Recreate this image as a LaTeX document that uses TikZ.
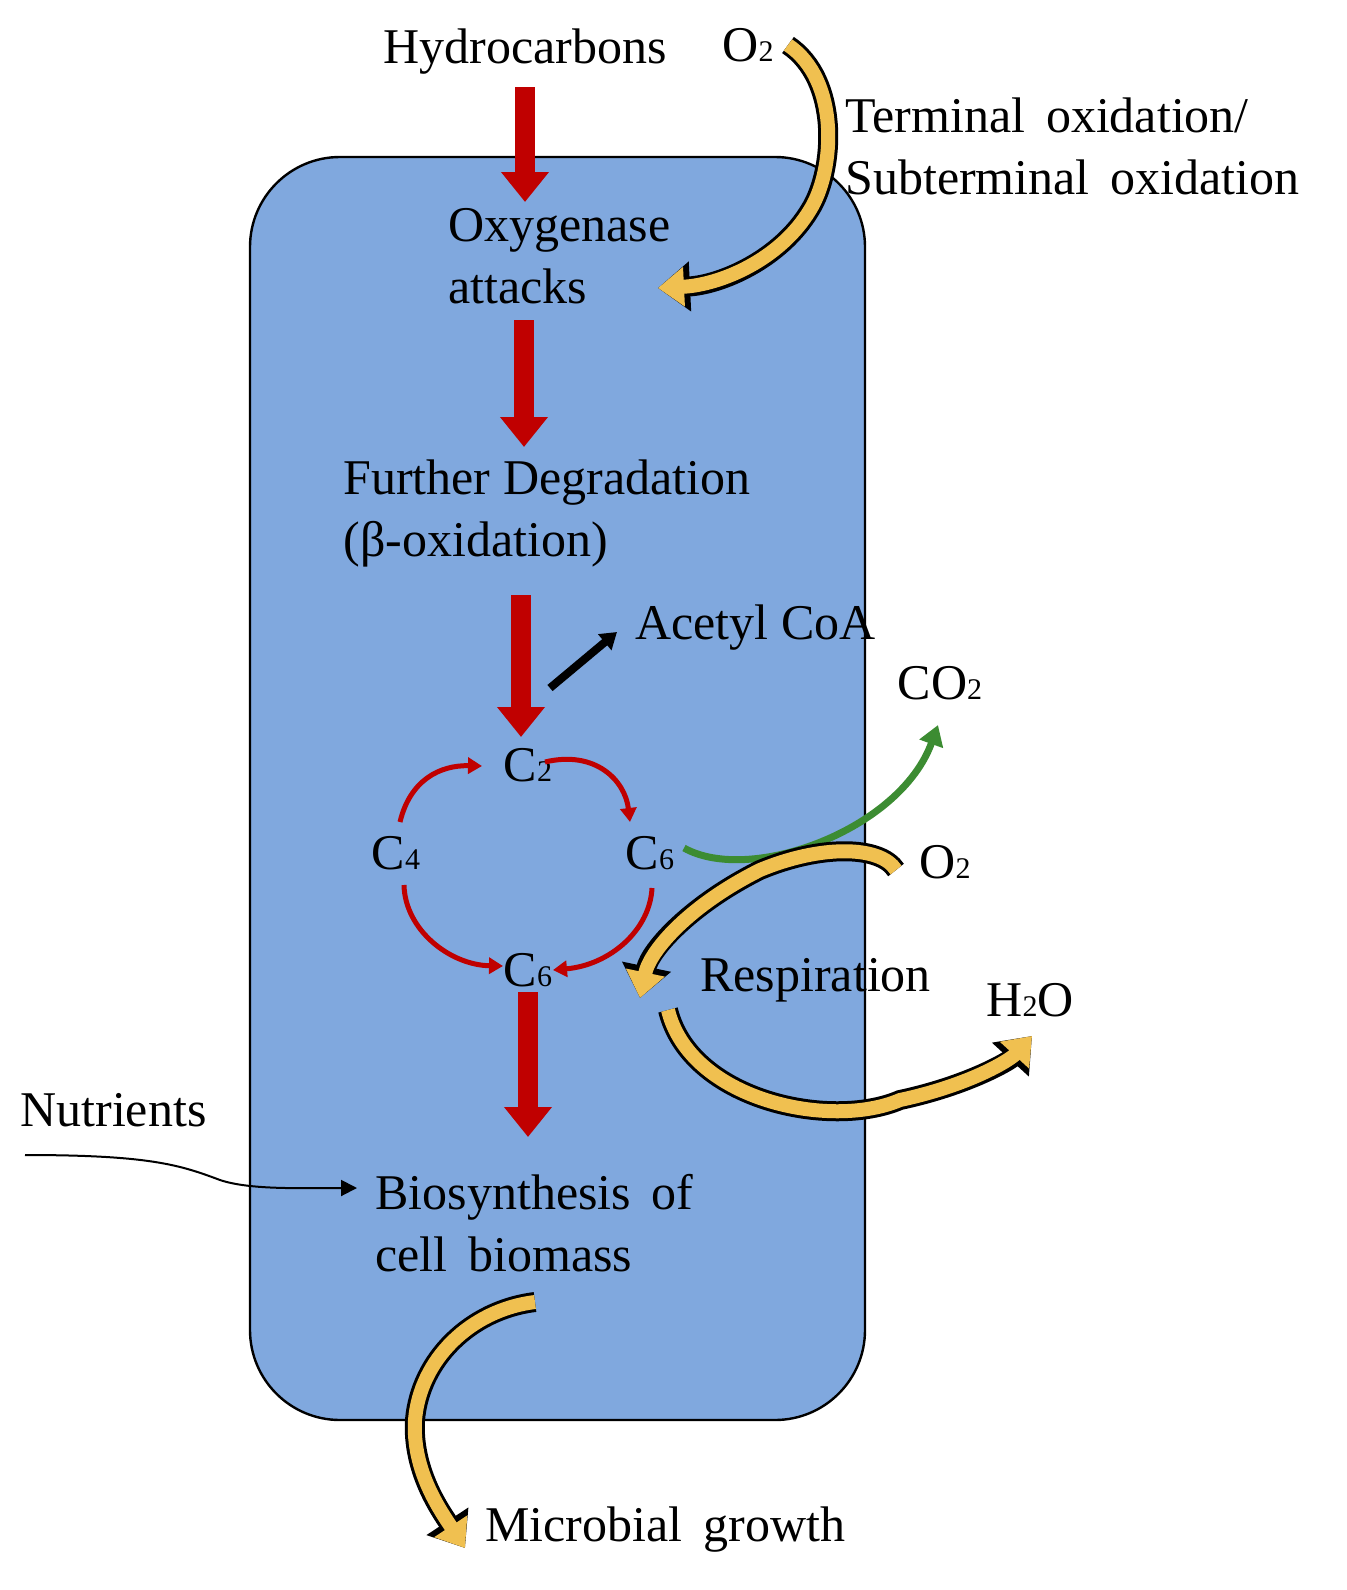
\documentclass[tikz,border=0pt]{standalone}
\usepackage{fontspec}
\setmainfont{Liberation Serif}
\usetikzlibrary{arrows.meta}
\definecolor{cellblue}{RGB}{128,168,222}
\definecolor{dred}{RGB}{192,0,0}
\definecolor{ayel}{RGB}{240,192,80}
\definecolor{agreen}{RGB}{60,140,50}
\newcommand\lowd[1]{{\fontsize{15}{15}\selectfont #1}}
\newcommand\yarr[1]{\draw[yout] #1; \draw[yin] #1;}
\begin{document}
\begin{tikzpicture}[x=0.5pt,y=-0.5pt,
  txt/.style={font=\fontsize{25}{31}\selectfont, inner sep=0pt},
  ltxt/.style={txt, anchor=west, align=left},
  red/.style={draw=dred, line width=10pt, -{Triangle[length=15pt,width=23pt]}},
  cyc/.style={draw=dred, line width=2.5pt, -{Triangle[length=7pt,width=8pt]}},
  yout/.style={draw=black, line width=10pt, -{Triangle[length=16pt,width=24pt]}},
  yin/.style={draw=ayel, line width=7pt, -{Triangle[length=13pt,width=19pt]}}]
\useasboundingbox (0,0) rectangle (1346,1590);
\draw[fill=cellblue, line width=1.2pt, rounded corners=45pt] (250,157) rectangle (865,1420);

\node[txt] (hc) at (525,52) {Hydrocarbons};
\node[txt] (o2a) at (748,45) {O\lowd{2}};
\node[ltxt] (term) at (845,146) {Terminal\, oxidation/\\Subterminal\, oxidation};
\node[ltxt] (oxy) at (448,256) {Oxygenase\\attacks};
\node[ltxt] (fd) at (343,513) {Further Degradation\\(β-oxidation)};
\node[ltxt] (acoa) at (635,628) {Acetyl CoA};
\node[txt] (co2) at (940,683) {CO\lowd{2}};
\node[txt] (c2) at (528,765) {C\lowd{2}};
\node[txt] (c4) at (396,853) {C\lowd{4}};
\node[txt] (c6a) at (650,853) {C\lowd{6}};
\node[txt] (c6b) at (528,970) {C\lowd{6}};
\node[txt] (o2b) at (945,862) {O\lowd{2}};
\node[ltxt] (resp) at (700,980) {Respiration};
\node[txt] (h2o) at (1030,1000) {H\lowd{2}O};
\node[ltxt] (nut) at (20,1110) {Nutrients};
\node[ltxt] (bio) at (375,1223) {Biosynthesis\, of\\cell\, biomass};
\node[ltxt] (mg) at (485,1530) {Microbial\, growth};

\coordinate (r1a) at (525,87); \coordinate (r1b) at (525,202);
\coordinate (r2a) at (524,320); \coordinate (r2b) at (524,447);
\coordinate (r3a) at (521,595); \coordinate (r3b) at (521,737);
\coordinate (r4a) at (528,992); \coordinate (r4b) at (528,1137);
\draw[red] (r1a) -- (r1b);
\draw[red] (r2a) -- (r2b);
\draw[red] (r3a) -- (r3b);
\draw[red] (r4a) -- (r4b);

\coordinate (ka) at (550,688); \coordinate (kb) at (617,632);
\draw[line width=4pt, -{Triangle[length=8pt,width=10pt]}] (ka) -- (kb);

\draw[cyc] (400,822) .. controls (410,780) and (440,765) .. (482,766);
\draw[cyc] (545,762) .. controls (595,750) and (625,780) .. (630,822);
\draw[cyc] (652,888) .. controls (650,930) and (610,965) .. (553,970);
\draw[cyc] (404,885) .. controls (405,930) and (450,965) .. (503,966);

\draw[draw=agreen, line width=3.5pt, -{Triangle[length=10pt,width=12pt]}]
  (684,848) .. controls (750,885) and (900,830) .. (938,725);

\yarr{(788,45) .. controls (840,80) and (835,170) .. (810,210) .. controls (780,260) and (720,285) .. (658,288)}
\yarr{(896,870) .. controls (880,845) and (820,845) .. (760,870) .. controls (690,905) and (650,950) .. (640,998)}
\yarr{(668,1010) .. controls (690,1100) and (830,1130) .. (900,1100) .. controls (970,1085) and (1010,1060) .. (1032,1036)}
\yarr{(535,1302) .. controls (470,1310) and (420,1360) .. (415,1420) .. controls (412,1470) and (440,1510) .. (465,1548)}

\coordinate (na) at (25,1155); \coordinate (nb) at (357,1188);
\draw[line width=1pt, -{Triangle[length=8pt,width=8pt]}]
  (na) .. controls (150,1155) and (180,1165) .. (220,1180) .. controls (250,1190) and (300,1188) .. (nb);
\end{tikzpicture}
\end{document}
